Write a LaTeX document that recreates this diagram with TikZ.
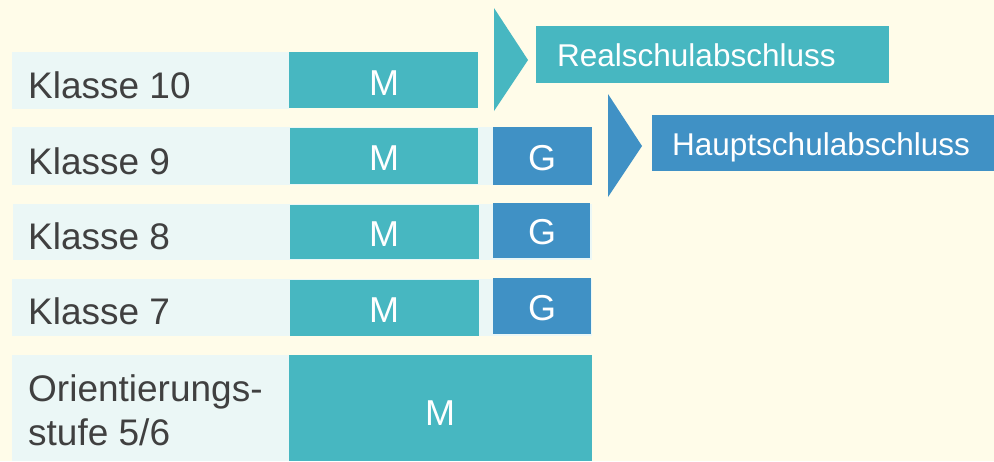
\documentclass[tikz,border=0pt]{standalone}
\usepackage{fontspec}
\setmainfont{Liberation Sans}
\definecolor{bgc}{RGB}{255,252,233}
\definecolor{rowc}{RGB}{235,247,246}
\definecolor{tealc}{RGB}{71,183,193}
\definecolor{bluec}{RGB}{64,145,197}
\definecolor{txtc}{RGB}{64,64,64}
\begin{document}
\begin{tikzpicture}[x=1pt,y=-1pt,
  lbl/.style={anchor=base west,inner sep=0,text=txtc,font=\fontsize{37}{44}\selectfont},
  wlbl/.style={anchor=base,inner sep=0,text=white,font=\fontsize{36}{44}\selectfont},
  slbl/.style={anchor=base west,inner sep=0,text=white,font=\fontsize{31.5}{38}\selectfont}]
\fill[bgc] (0,0) rectangle (994,461);
\useasboundingbox (0,0) rectangle (994,461);
% row backgrounds
\fill[rowc] (12,52) rectangle (289,109);
\fill[rowc] (12,127) rectangle (592,185);
\fill[rowc] (13,204) rectangle (592,260);
\fill[rowc] (12,279) rectangle (592,336);
\fill[rowc] (12,355) rectangle (592,461);
% M boxes
\fill[tealc] (289,52) rectangle (478,108);
\fill[tealc] (290,128) rectangle (478,184);
\fill[tealc] (290,205) rectangle (479,259);
\fill[tealc] (290,280) rectangle (479,336);
\fill[tealc] (289,355) rectangle (592,461);
% G boxes
\fill[bluec] (493,127) rectangle (592,185);
\fill[bluec] (493,203) rectangle (590,258);
\fill[bluec] (493,278) rectangle (591,334);
% arrows
\fill[tealc] (494,8) -- (528,60) -- (494,111) -- cycle;
\fill[bluec] (608,94) -- (642,146) -- (608,197) -- cycle;
% result boxes
\fill[tealc] (536,26) rectangle (889,83);
\fill[bluec] (652,115) rectangle (994,171);
% labels
\node[lbl] (k10) at (28,98) {Klasse 10};
\node[lbl] (k9) at (28,174) {Klasse 9};
\node[lbl] (k8) at (28,249) {Klasse 8};
\node[lbl] (k7) at (28,324) {Klasse 7};
\node[lbl] (o1) at (28,401) {Orientierungs-};
\node[lbl] (o2) at (28,445) {stufe 5/6};
\node[wlbl] (m10) at (384,95) {M};
\node[wlbl] (m9) at (384,170) {M};
\node[wlbl] (m8) at (384,246) {M};
\node[wlbl] (m7) at (384,322) {M};
\node[wlbl] (m56) at (440,425) {M};
\node[wlbl] (g9) at (542,170) {G};
\node[wlbl] (g8) at (542,244) {G};
\node[wlbl] (g7) at (542,320) {G};
\node[slbl] (rs) at (557,66) {Realschulabschluss};
\node[slbl] (hs) at (672,155) {Hauptschulabschluss};
\end{tikzpicture}
\end{document}
